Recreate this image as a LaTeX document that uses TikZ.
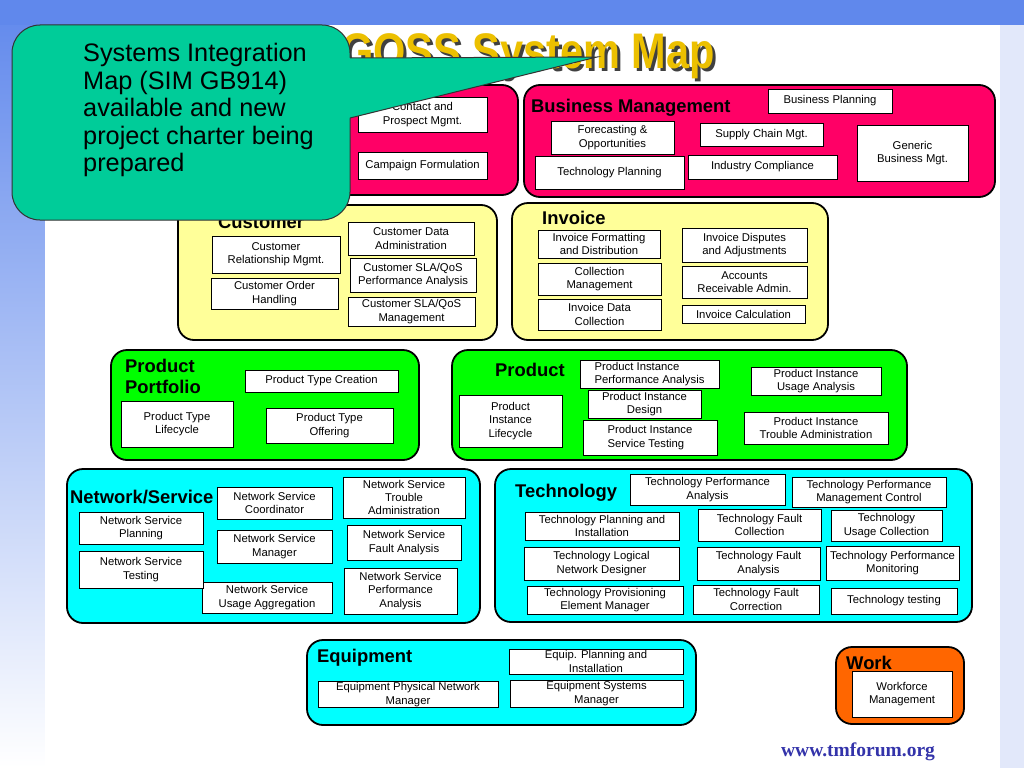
\documentclass[tikz,border=0pt]{standalone}
\usepackage{fontspec}
\setmainfont{Liberation Sans}
\newfontfamily\webfont{Liberation Serif}
\definecolor{bgblue}{RGB}{96,136,236}
\definecolor{sideblue}{RGB}{226,232,250}
\definecolor{mspink}{RGB}{255,0,102}
\definecolor{pastel}{RGB}{255,255,153}
\definecolor{lgreen}{RGB}{0,255,0}
\definecolor{aqua}{RGB}{0,255,255}
\definecolor{workorange}{RGB}{255,102,0}
\definecolor{notegreen}{RGB}{0,204,153}
\definecolor{gold}{RGB}{236,192,0}
\definecolor{webblue}{RGB}{51,51,170}
\newcommand\boxfont{\fontsize{11.3}{13.3}\selectfont}
\newcommand\headfont{\fontsize{18.4}{21}\selectfont\bfseries}

\begin{document}
\begin{tikzpicture}[x=1pt, y=-1pt,
  grp/.style={draw=black, line width=1.8pt, rounded corners=16pt},
  box/.style={draw=black, fill=white, line width=0.9pt, align=center, inner sep=1pt, font=\boxfont},
  wh/.style 2 args={minimum width=#1pt, minimum height=#2pt},
  hd/.style={font=\headfont, inner sep=0pt, anchor=base west}]

% background
\useasboundingbox (0,0) rectangle (1024,768);
\fill[sideblue] (0,0) rectangle (1024,768);
\shade[top color=bgblue, bottom color=white] (0,0) rectangle (45,768);
\fill[bgblue] (0,0) rectangle (1024,25);
\fill[white] (45,25) rectangle (1000,768);

% title
\node[font=\fontsize{50}{50}\selectfont\bfseries, text=black!75, anchor=base east, inner sep=0pt] (titleshadow) at (718,71) {\scalebox{0.83}[1]{GOSS System Map}};
\node[font=\fontsize{50}{50}\selectfont\bfseries, text=gold, anchor=base east, inner sep=0pt] (title) at (715,68) {\scalebox{0.83}[1]{GOSS System Map}};

% groups
\draw[grp, fill=mspink] (55,85) rectangle (518,195);
\draw[grp, fill=mspink] (524,85) rectangle (995,197);
\draw[grp, fill=pastel] (178,205) rectangle (497,340);
\draw[grp, fill=pastel] (512,203) rectangle (828,340);
\draw[grp, fill=lgreen] (111,350) rectangle (419,460);
\draw[grp, fill=lgreen] (452,350) rectangle (907,460);
\draw[grp, fill=aqua] (67,469) rectangle (480,623);
\draw[grp, fill=aqua] (495,469) rectangle (972,622);
\draw[grp, fill=aqua] (307,640) rectangle (696,725);
\draw[grp, fill=workorange] (836,647) rectangle (964,724);

% marketing
\node[box, wh={129}{35}] (contact) at (422.5,114.5) {Contact and\\Prospect Mgmt.};
\node[box, wh={129}{27}] (campaign) at (422.5,165.5) {Campaign Formulation};

% business management
\node[hd] (bmhead) at (531,112) {Business Management};
\node[box, wh={124}{24}] (bplan) at (830,101) {Business Planning};
\node[box, wh={123}{33}] (forecast) at (612.5,137.5) {Forecasting \&\\Opportunities};
\node[box, wh={149}{33}] (techplan) at (609.5,172.5) {Technology Planning};
\node[box, wh={123}{23}] (supply) at (761.5,134.5) {Supply Chain Mgt.};
\node[box, wh={149}{24}] (industry) at (762.5,167) {Industry Compliance};
\node[box, wh={111}{56}] (generic) at (912.5,153) {Generic\\Business Mgt.};

% customer
\node[hd] (custhead) at (218,228) {Customer};
\node[box, wh={128}{37}] (crm) at (276,254.5) {Customer\\Relationship Mgmt.};
\node[box, wh={127}{31}] (order) at (274.5,293.5) {Customer Order\\Handling};
\node[box, wh={126}{33}] (custdata) at (411,238.5) {Customer Data\\Administration};
\node[box, wh={126}{34}] (slaperf) at (413,275) {Customer SLA/QoS\\Performance Analysis};
\node[box, wh={127}{29}] (slamgmt) at (411.5,311.5) {Customer SLA/QoS\\Management};

% invoice
\node[hd] (invhead) at (542,224) {Invoice};
\node[box, wh={122}{28}] (invformat) at (599,244) {Invoice Formatting\\and Distribution};
\node[box, wh={123}{32}] (collect) at (599.5,279) {Collection\\Management};
\node[box, wh={123}{31}] (invdata) at (599.5,314.5) {Invoice Data\\Collection};
\node[box, wh={125}{34}] (disputes) at (744.5,245) {Invoice Disputes\\and Adjustments};
\node[box, wh={125}{32}] (receivable) at (744.5,282) {Accounts\\Receivable Admin.};
\node[box, wh={123}{18}] (invcalc) at (743.5,314) {Invoice Calculation};

% product portfolio
\node[font=\headfont, inner sep=0pt, anchor=north west, align=left] (pphead) at (125,359) {Product\\Portfolio};
\node[box, wh={153}{22}] (ptcreate) at (321.5,381) {Product Type Creation};
\node[box, wh={112}{46}] (ptlife) at (177,424) {Product Type\\Lifecycle};
\node[box, wh={127}{35}] (ptoffer) at (329.5,425.5) {Product Type\\Offering};

% product
\node[hd] (prodhead) at (495,376) {Product};
\node[box, wh={139}{28}, align=left] (piperf) at (649.5,374) {Product Instance\\Performance Analysis};
\node[box, wh={113}{28}] (pidesign) at (644.5,404) {Product Instance\\Design};
\node[box, wh={134}{35}, align=left] (pitest) at (650,437.5) {Product Instance\\Service Testing};
\node[box, wh={103}{52}] (pilife) at (510.5,421) {Product\\Instance\\Lifecycle};
\node[box, wh={130}{28}] (piusage) at (816,381) {Product Instance\\Usage Analysis};
\node[box, wh={144}{32}] (pitrouble) at (816,428) {Product Instance\\Trouble Administration};

% network/service
\node[hd] (nshead) at (70,503) {Network/Service};
\node[box, wh={124}{32}] (nsplan) at (141,528) {Network Service\\Planning};
\node[box, wh={130}{31}] (nsusage) at (267,597.5) {Network Service\\Usage Aggregation};
\node[box, wh={124}{37}] (nstest) at (141,569.5) {Network Service\\Testing};
\node[box, wh={115}{32}] (nscoord) at (274.5,503) {Network Service\\Coordinator};
\node[box, wh={115}{33}] (nsmgr) at (274.5,546.5) {Network Service\\Manager};
\node[box, wh={122}{41}] (nstrouble) at (404,497.5) {Network Service\\Trouble\\Administration};
\node[box, wh={114}{35}] (nsfault) at (404,542.5) {Network Service\\Fault Analysis};
\node[box, wh={113}{46}] (nsperf) at (400.5,591) {Network Service\\Performance\\Analysis};

% technology
\node[hd] (techhead) at (515,497) {Technology};
\node[box, wh={155}{31}] (tperf) at (707.5,489.5) {Technology Performance\\Analysis};
\node[box, wh={154}{30}] (tperfctl) at (869,492) {Technology Performance\\Management Control};
\node[box, wh={154}{28}] (tplaninst) at (602,526) {Technology Planning and\\Installation};
\node[box, wh={123}{32}] (tfaultcol) at (759.5,525) {Technology Fault\\Collection};
\node[box, wh={111}{31}] (tusage) at (886.5,525.5) {Technology\\Usage Collection};
\node[box, wh={155}{33}] (tlogical) at (601.5,563.5) {Technology Logical\\Network Designer};
\node[box, wh={123}{33}] (tfaultan) at (758.5,563.5) {Technology Fault\\Analysis};
\node[box, wh={133}{34}] (tperfmon) at (892.5,563) {Technology Performance\\Monitoring};
\node[box, wh={156}{28}] (tprov) at (605,600) {Technology Provisioning\\Element Manager};
\node[box, wh={126}{29}] (tfaultcor) at (756,599.5) {Technology Fault\\Correction};
\node[box, wh={126}{26}] (ttest) at (894,601) {Technology testing};

% equipment
\node[hd] (equiphead) at (317,662) {Equipment};
\node[box, wh={174}{25}] (eqplan) at (596,661.5) {Equip. Planning and\\Installation};
\node[box, wh={180}{25}] (eqphys) at (408,694.5) {Equipment Physical Network\\Manager};
\node[box, wh={173}{27}] (eqsys) at (596.5,693.5) {Equipment Systems\\Manager};

% work
\node[hd] (workhead) at (846,669) {Work};
\node[box, wh={100}{46}] (workforce) at (902,694) {Workforce\\Management};

% footer
\node[font=\webfont\fontsize{19.5}{20}\selectfont\bfseries, text=webblue, anchor=base, inner sep=0pt] (web) at (858,756) {www.tmforum.org};

% note with pointer
\draw[fill=notegreen, draw=black!80, line width=1pt, rounded corners=28pt] (12,25) rectangle (350,220);
\fill[notegreen] (338,58) -- (597,57) -- (338,121) -- cycle;
\draw[black!80, line width=1pt] (350,58) -- (597,57) -- (350,118);
\node[font=\fontsize{25.3}{27.5}\selectfont, align=left, anchor=north west, inner sep=0pt] (note) at (83,43) {Systems Integration\\Map (SIM GB914)\\available and new\\project charter being\\prepared};
\end{tikzpicture}
\end{document}
